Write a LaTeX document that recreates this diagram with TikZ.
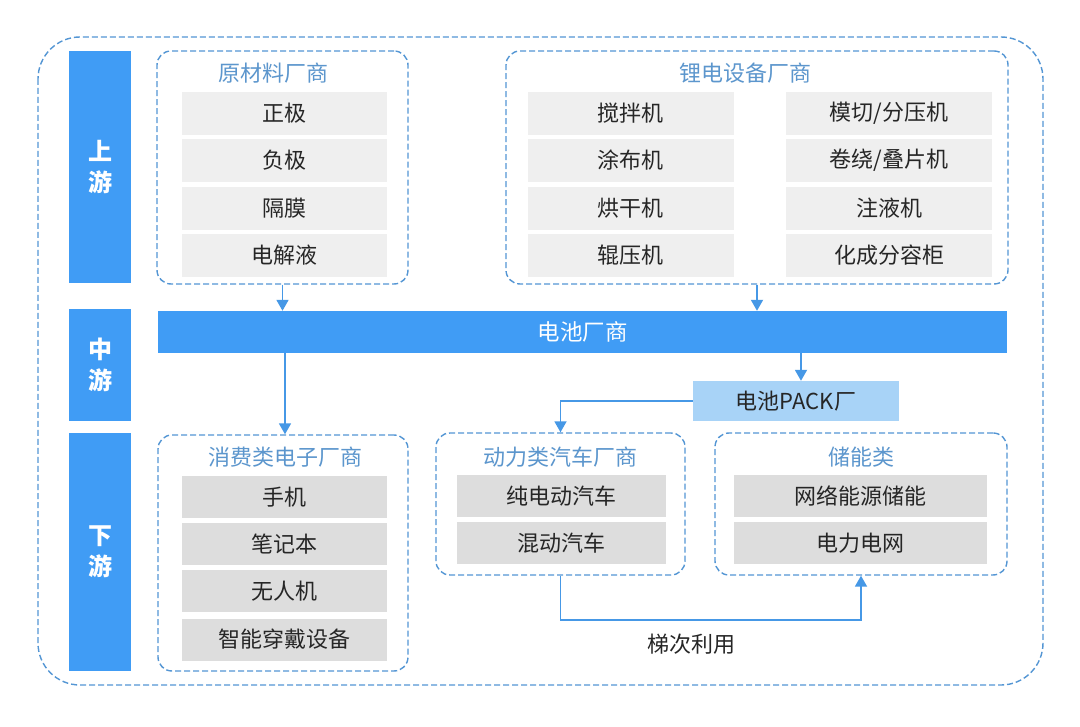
\documentclass[tikz,border=0pt]{standalone}
\usepackage{fontspec}
\setmainfont{Noto Sans CJK SC}
\usetikzlibrary{arrows.meta}
\definecolor{barblue}{RGB}{64,156,245}
\definecolor{dashblue}{RGB}{84,150,212}
\definecolor{titleblue}{RGB}{92,150,205}
\definecolor{packblue}{RGB}{168,211,247}
\definecolor{lightgray}{RGB}{239,239,239}
\definecolor{midgray}{RGB}{221,221,221}
\definecolor{arrowblue}{RGB}{70,152,230}
\tikzset{
  group/.style={draw=dashblue, line width=1.4pt, dash pattern=on 6pt off 3pt, rounded corners=14pt, inner sep=0pt},
  outer/.style={draw=dashblue, line width=1.4pt, dash pattern=on 6pt off 3pt, rounded corners=42pt},
  gtitle/.style={text=titleblue, font=\fontsize{22}{26}\selectfont, inner sep=0pt},
  itemA/.style={fill=lightgray, inner sep=0pt, font=\fontsize{22}{26}\selectfont, text=black!85},
  itemB/.style={fill=midgray, inner sep=0pt, font=\fontsize{22}{26}\selectfont, text=black!85},
  sidebar/.style={fill=barblue, inner sep=0pt, minimum width=62pt, text=white, font=\fontsize{24}{31}\selectfont\bfseries, align=center},
  arr/.style={draw=arrowblue, line width=1.8pt, -{Triangle[width=12pt,length=11pt]}},
  lbl/.style={font=\fontsize{22}{26}\selectfont, text=black!85, inner sep=0pt}
}
\begin{document}
\begin{tikzpicture}[x=1pt,y=-1pt]
\useasboundingbox (0,0) rectangle (1080,727);
\fill[white] (0,0) rectangle (1080,727);
\draw[outer] (38,37) rectangle (1043,685);

% side bars
\node[sidebar, minimum height=232pt] (up) at (100,167) {上\\游};
\node[sidebar, minimum height=112pt] (mid) at (100,365) {中\\游};
\node[sidebar, minimum height=238pt] (down) at (100,552) {下\\游};

% raw materials
\node[group, minimum width=251pt, minimum height=233pt] (raw) at (282.5,167.5) {};
\node[gtitle] (rawt) at (273,73) {原材料厂商};
\node[itemA, minimum width=205pt, minimum height=43pt] (r1) at (284.5,113.5) {正极};
\node[itemA, minimum width=205pt, minimum height=43pt] (r2) at (284.5,160.5) {负极};
\node[itemA, minimum width=205pt, minimum height=43pt] (r3) at (284.5,208.5) {隔膜};
\node[itemA, minimum width=205pt, minimum height=43pt] (r4) at (284.5,255.5) {电解液};

% equipment
\node[group, minimum width=502pt, minimum height=233pt] (equip) at (757,167.5) {};
\node[gtitle] (equipt) at (745,73) {锂电设备厂商};
\node[itemA, minimum width=206pt, minimum height=43pt] (e1) at (630.5,113.5) {搅拌机};
\node[itemA, minimum width=206pt, minimum height=43pt] (e2) at (630.5,160.5) {涂布机};
\node[itemA, minimum width=206pt, minimum height=43pt] (e3) at (630.5,208.5) {烘干机};
\node[itemA, minimum width=206pt, minimum height=43pt] (e4) at (630.5,255.5) {辊压机};
\node[itemA, minimum width=206pt, minimum height=43pt] (e5) at (889,113.5) {模切/分压机};
\node[itemA, minimum width=206pt, minimum height=43pt] (e6) at (889,160.5) {卷绕/叠片机};
\node[itemA, minimum width=206pt, minimum height=43pt] (e7) at (889,208.5) {注液机};
\node[itemA, minimum width=206pt, minimum height=43pt] (e8) at (889,255.5) {化成分容柜};

% battery maker
\node[fill=barblue, inner sep=0pt, minimum width=849pt, minimum height=42pt, text=white, font=\fontsize{22.5}{26}\selectfont] (battery) at (582.5,332) {电池厂商};

% PACK
\node[fill=packblue, inner sep=0pt, minimum width=206pt, minimum height=40pt, font=\fontsize{22}{26}\selectfont, text=black!85] (pack) at (796,401) {电池PACK厂};

% consumer
\node[group, minimum width=250pt, minimum height=236pt] (cons) at (283,553) {};
\node[gtitle] (const) at (285,457) {消费类电子厂商};
\node[itemB, minimum width=205pt, minimum height=42pt] (c1) at (284.5,497) {手机};
\node[itemB, minimum width=205pt, minimum height=42pt] (c2) at (284.5,544) {笔记本};
\node[itemB, minimum width=205pt, minimum height=42pt] (c3) at (284.5,591) {无人机};
\node[itemB, minimum width=205pt, minimum height=42pt] (c4) at (284.5,639.5) {智能穿戴设备};

% power vehicles
\node[group, minimum width=249pt, minimum height=142pt] (power) at (560.5,504) {};
\node[gtitle] (powert) at (560,457) {动力类汽车厂商};
\node[itemB, minimum width=209pt, minimum height=42pt] (p1) at (561.5,496) {纯电动汽车};
\node[itemB, minimum width=209pt, minimum height=42pt] (p2) at (561.5,543) {混动汽车};

% storage
\node[group, minimum width=292pt, minimum height=142pt] (stor) at (861,504) {};
\node[gtitle] (stort) at (861,457) {储能类};
\node[itemB, minimum width=253pt, minimum height=42pt] (s1) at (860.5,496) {网络能源储能};
\node[itemB, minimum width=253pt, minimum height=42pt] (s2) at (860.5,543) {电力电网};

% arrows
\draw[arr] (raw.south) -- (raw.south |- battery.north);
\draw[arr] (equip.south) -- (equip.south |- battery.north);
\draw[arr] ([xshift=2pt]cons.north |- battery.south) -- ([xshift=2pt]cons.north);
\draw[arr] ([xshift=5pt]pack.north |- battery.south) -- ([xshift=5pt]pack.north);
\draw[arr] (pack.west) -| (power.north);
\draw[arr] (power.south) -- ([yshift=-44pt]power.south) -| (stor.south);
\node[lbl] (reuse) at (691,644) {梯次利用};
\end{tikzpicture}
\end{document}
